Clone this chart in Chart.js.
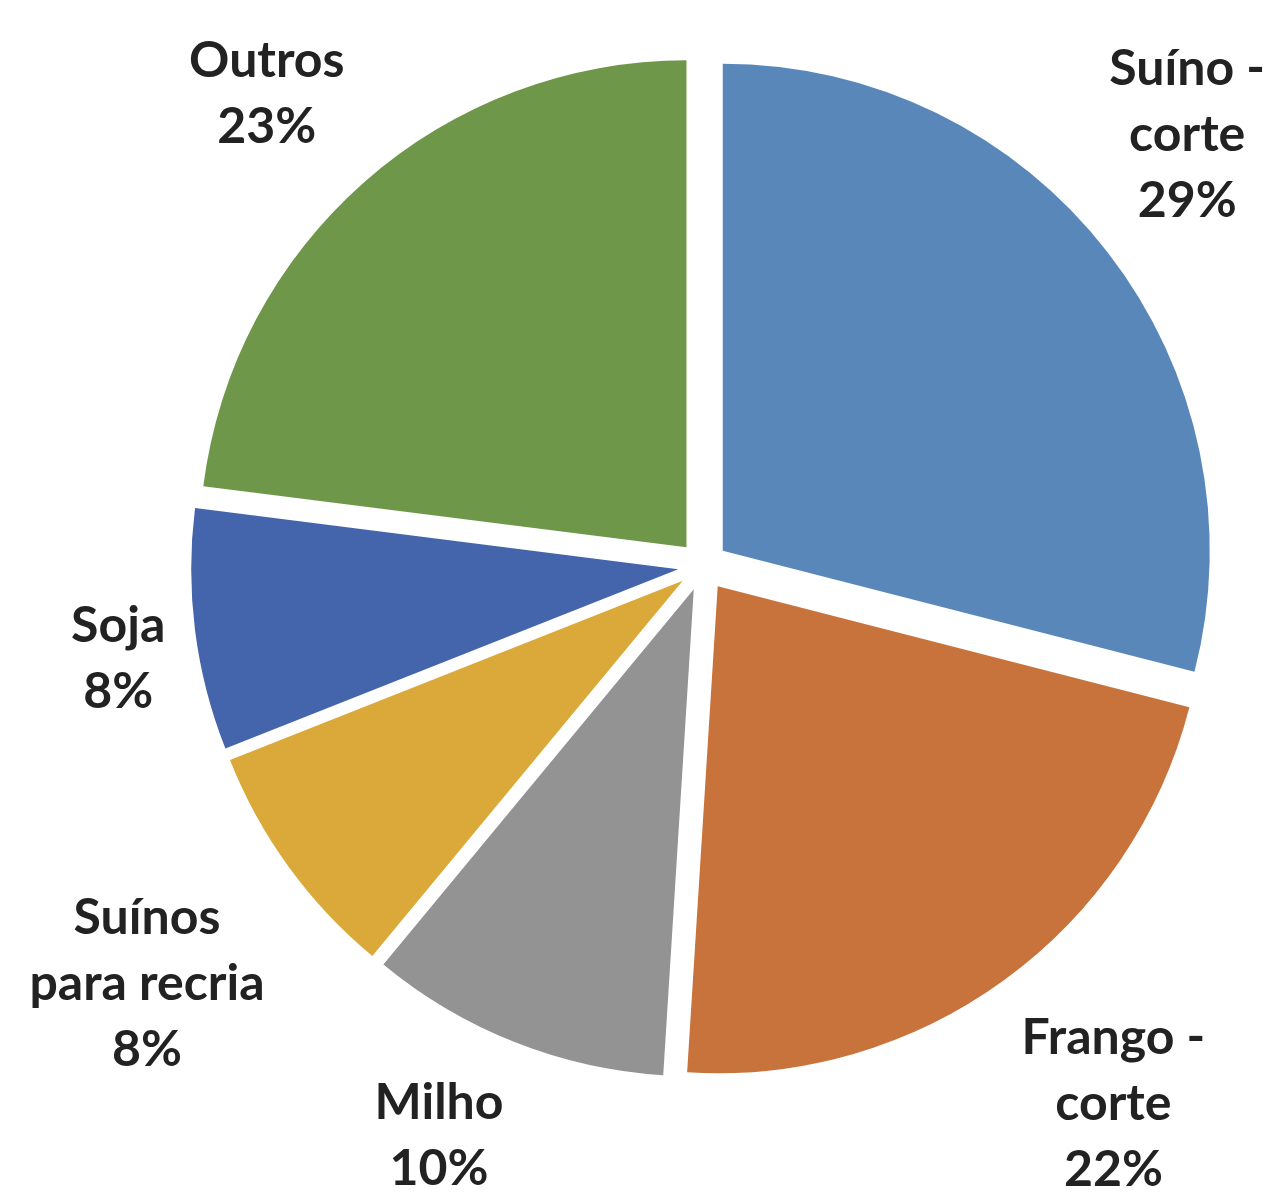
<!DOCTYPE html>
<html>
<head>
<meta charset="utf-8">
<script src="https://cdn.jsdelivr.net/npm/chart.js@4.4.1/dist/chart.umd.min.js"></script>
<style>
html,body{margin:0;padding:0;background:#fff;}
#c{display:block;}
</style>
</head>
<body>
<canvas id="c" width="1275" height="1194"></canvas>
<script>
// ---- data ----
const categories = [['Suíno -','corte'], ['Frango -','corte'], ['Milho'], ['Suínos','para recria'], ['Soja'], ['Outros']];
const values = [29, 22, 10, 8, 8, 23];
const colors = ['#5987BA', '#C8733C', '#939393', '#DBA939', '#4465AB', '#6F974A'];

const EXPLODE = 25;      // px each slice is pulled out
const FONT_SIZE = 50;
const LINE_H = 66;
const LABEL_GAP = 30;
const EDGE_MARGIN = 10;

// explode slices: translate each arc along its mid angle before drawing
const origArcDraw = Chart.ArcElement.prototype.draw;
Chart.ArcElement.prototype.draw = function (ctx) {
  const mid = (this.startAngle + this.endAngle) / 2;
  ctx.save();
  ctx.translate(Math.cos(mid) * EXPLODE, Math.sin(mid) * EXPLODE);
  origArcDraw.call(this, ctx);
  ctx.restore();
};

const clamp = v => Math.max(-1, Math.min(1, v));

const labelPlugin = {
  id: 'outsideLabels',
  afterDatasetsDraw(chart) {
    const ctx = chart.ctx;
    const meta = chart.getDatasetMeta(0);
    const total = values.reduce((a, b) => a + b, 0);
    ctx.save();
    ctx.font = `bold ${FONT_SIZE}px Lato, "Open Sans", sans-serif`;
    ctx.fillStyle = '#222222';
    ctx.textAlign = 'center';
    ctx.textBaseline = 'middle';
    meta.data.forEach((arc, i) => {
      const p = arc.getProps(['x', 'y', 'startAngle', 'endAngle', 'outerRadius']);
      const mid = (p.startAngle + p.endAngle) / 2;
      const cx = Math.cos(mid), cy = Math.sin(mid);
      const lines = categories[i].concat([Math.round(values[i] / total * 100) + '%']);
      const w = Math.max(...lines.map(l => ctx.measureText(l).width));
      const h = lines.length * LINE_H;
      const D = p.outerRadius + EXPLODE + LABEL_GAP;
      let bx = p.x + cx * D + (w / 2) * clamp(3 * cx);
      let by = p.y + cy * D + (h / 2) * clamp(3 * cy);
      // keep the label block inside the canvas
      bx = Math.min(bx, chart.width - EDGE_MARGIN - w / 2);
      bx = Math.max(bx, EDGE_MARGIN + w / 2);
      lines.forEach((l, j) => {
        ctx.fillText(l, bx, by - h / 2 + LINE_H * (j + 0.5));
      });
    });
    ctx.restore();
  }
};

new Chart(document.getElementById('c'), {
  type: 'pie',
  data: {
    labels: categories.map(c => c.join(' ')),
    datasets: [{
      data: values,
      backgroundColor: colors,
      borderWidth: 0
    }]
  },
  options: {
    responsive: false,
    animation: false,
    radius: 487,
    layout: { padding: { left: 131, right: 0, top: 0, bottom: 62 } },
    plugins: {
      legend: { display: false },
      tooltip: { enabled: false }
    }
  },
  plugins: [labelPlugin]
});
</script>
</body>
</html>
